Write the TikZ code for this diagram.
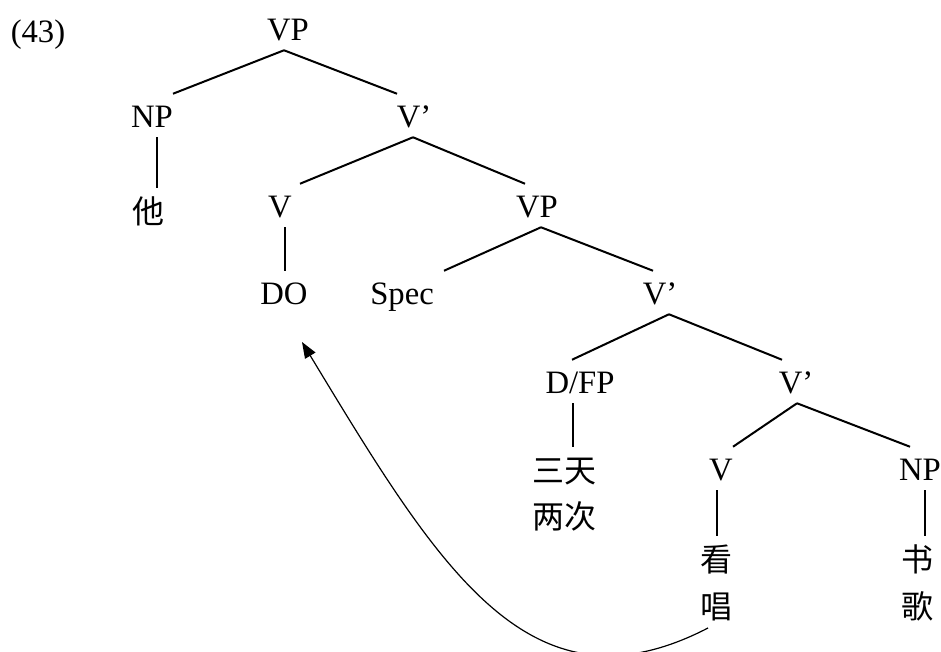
\documentclass[tikz,border=0pt]{standalone}
\usepackage{fontspec}
\setmainfont{Liberation Serif}
\newfontfamily\cjk{Noto Sans CJK SC}
\usetikzlibrary{arrows.meta}
\begin{document}
\begin{tikzpicture}[x=0.75pt,y=-0.75pt,
 lab/.style={anchor=base,inner sep=0pt,text height=24.75pt,text depth=7.5pt,font=\fontsize{24.5}{29}\selectfont},
 han/.style={anchor=base,inner sep=0pt,text height=26.25pt,text depth=6pt,font=\cjk\fontsize{24}{29}\selectfont},
 br/.style={line width=1.5pt},
 mv/.style={line width=0.9pt,-{Triangle[length=12pt,width=9pt]}}]
\useasboundingbox (0,0) rectangle (941,651);
\clip (0,0) rectangle (941,651);
\node[lab] (ex) at (38,42) {(43)};
\node[lab] (vp1) at (288,40) {VP};
\node[lab] (np1) at (152,127) {NP};
\node[lab] (vb1) at (414,127) {V’};
\node[han] (ta) at (148,223) {他};
\node[lab] (v1) at (280,217) {V};
\node[lab] (vp2) at (537,217) {VP};
\node[lab] (do) at (284,304) {DO};
\node[lab] (spec) at (402,304) {Spec};
\node[lab] (vb2) at (660,304) {V’};
\node[lab] (dfp) at (580,393) {D/FP};
\node[lab] (vb3) at (796,393) {V’};
\node[han] (st) at (564,482) {三天};
\node[han] (lc) at (564,528) {两次};
\node[lab] (v2) at (721,480) {V};
\node[lab] (np2) at (920,480) {NP};
\node[han] (kan) at (716,571) {看};
\node[han] (chang) at (716,618) {唱};
\node[han] (shu) at (917,571) {书};
\node[han] (ge) at (917,618) {歌};
% branches
\draw[br] (vp1.south -| 284,0) -- (np1.north -| 173,0);
\draw[br] (vp1.south -| 284,0) -- (vb1.north -| 397,0);
\draw[br] (vb1.south -| 413,0) -- (v1.north -| 300,0);
\draw[br] (vb1.south -| 413,0) -- (vp2.north -| 525,0);
\draw[br] (vp2.south -| 541,0) -- (spec.north -| 444,0);
\draw[br] (vp2.south -| 541,0) -- (vb2.north -| 653,0);
\draw[br] (vb2.south -| 669,0) -- (dfp.north -| 572,0);
\draw[br] (vb2.south -| 669,0) -- (vb3.north -| 782,0);
\draw[br] (vb3.south -| 797,0) -- (v2.north -| 733,0);
\draw[br] (vb3.south -| 797,0) -- (np2.north -| 910,0);
% unary lines
\draw[br] (np1.south -| 157,0) -- (ta.north -| 157,0);
\draw[br] (v1.south -| 285,0) -- (do.north -| 285,0);
\draw[br] (dfp.south -| 573,0) -- (st.north -| 573,0);
\draw[br] (v2.south -| 717,0) -- (kan.north -| 717,0);
\draw[br] (np2.south -| 925,0) -- (shu.north -| 925,0);
% movement arrow
\coordinate (cstart) at ([xshift=-6pt,yshift=-7.5pt]chang.base);
\coordinate (ctip) at ([xshift=13.5pt,yshift=-28.5pt]do.base);
\draw[mv] (cstart) .. controls (530,720) and (440,570) .. (ctip);
\end{tikzpicture}
\end{document}
